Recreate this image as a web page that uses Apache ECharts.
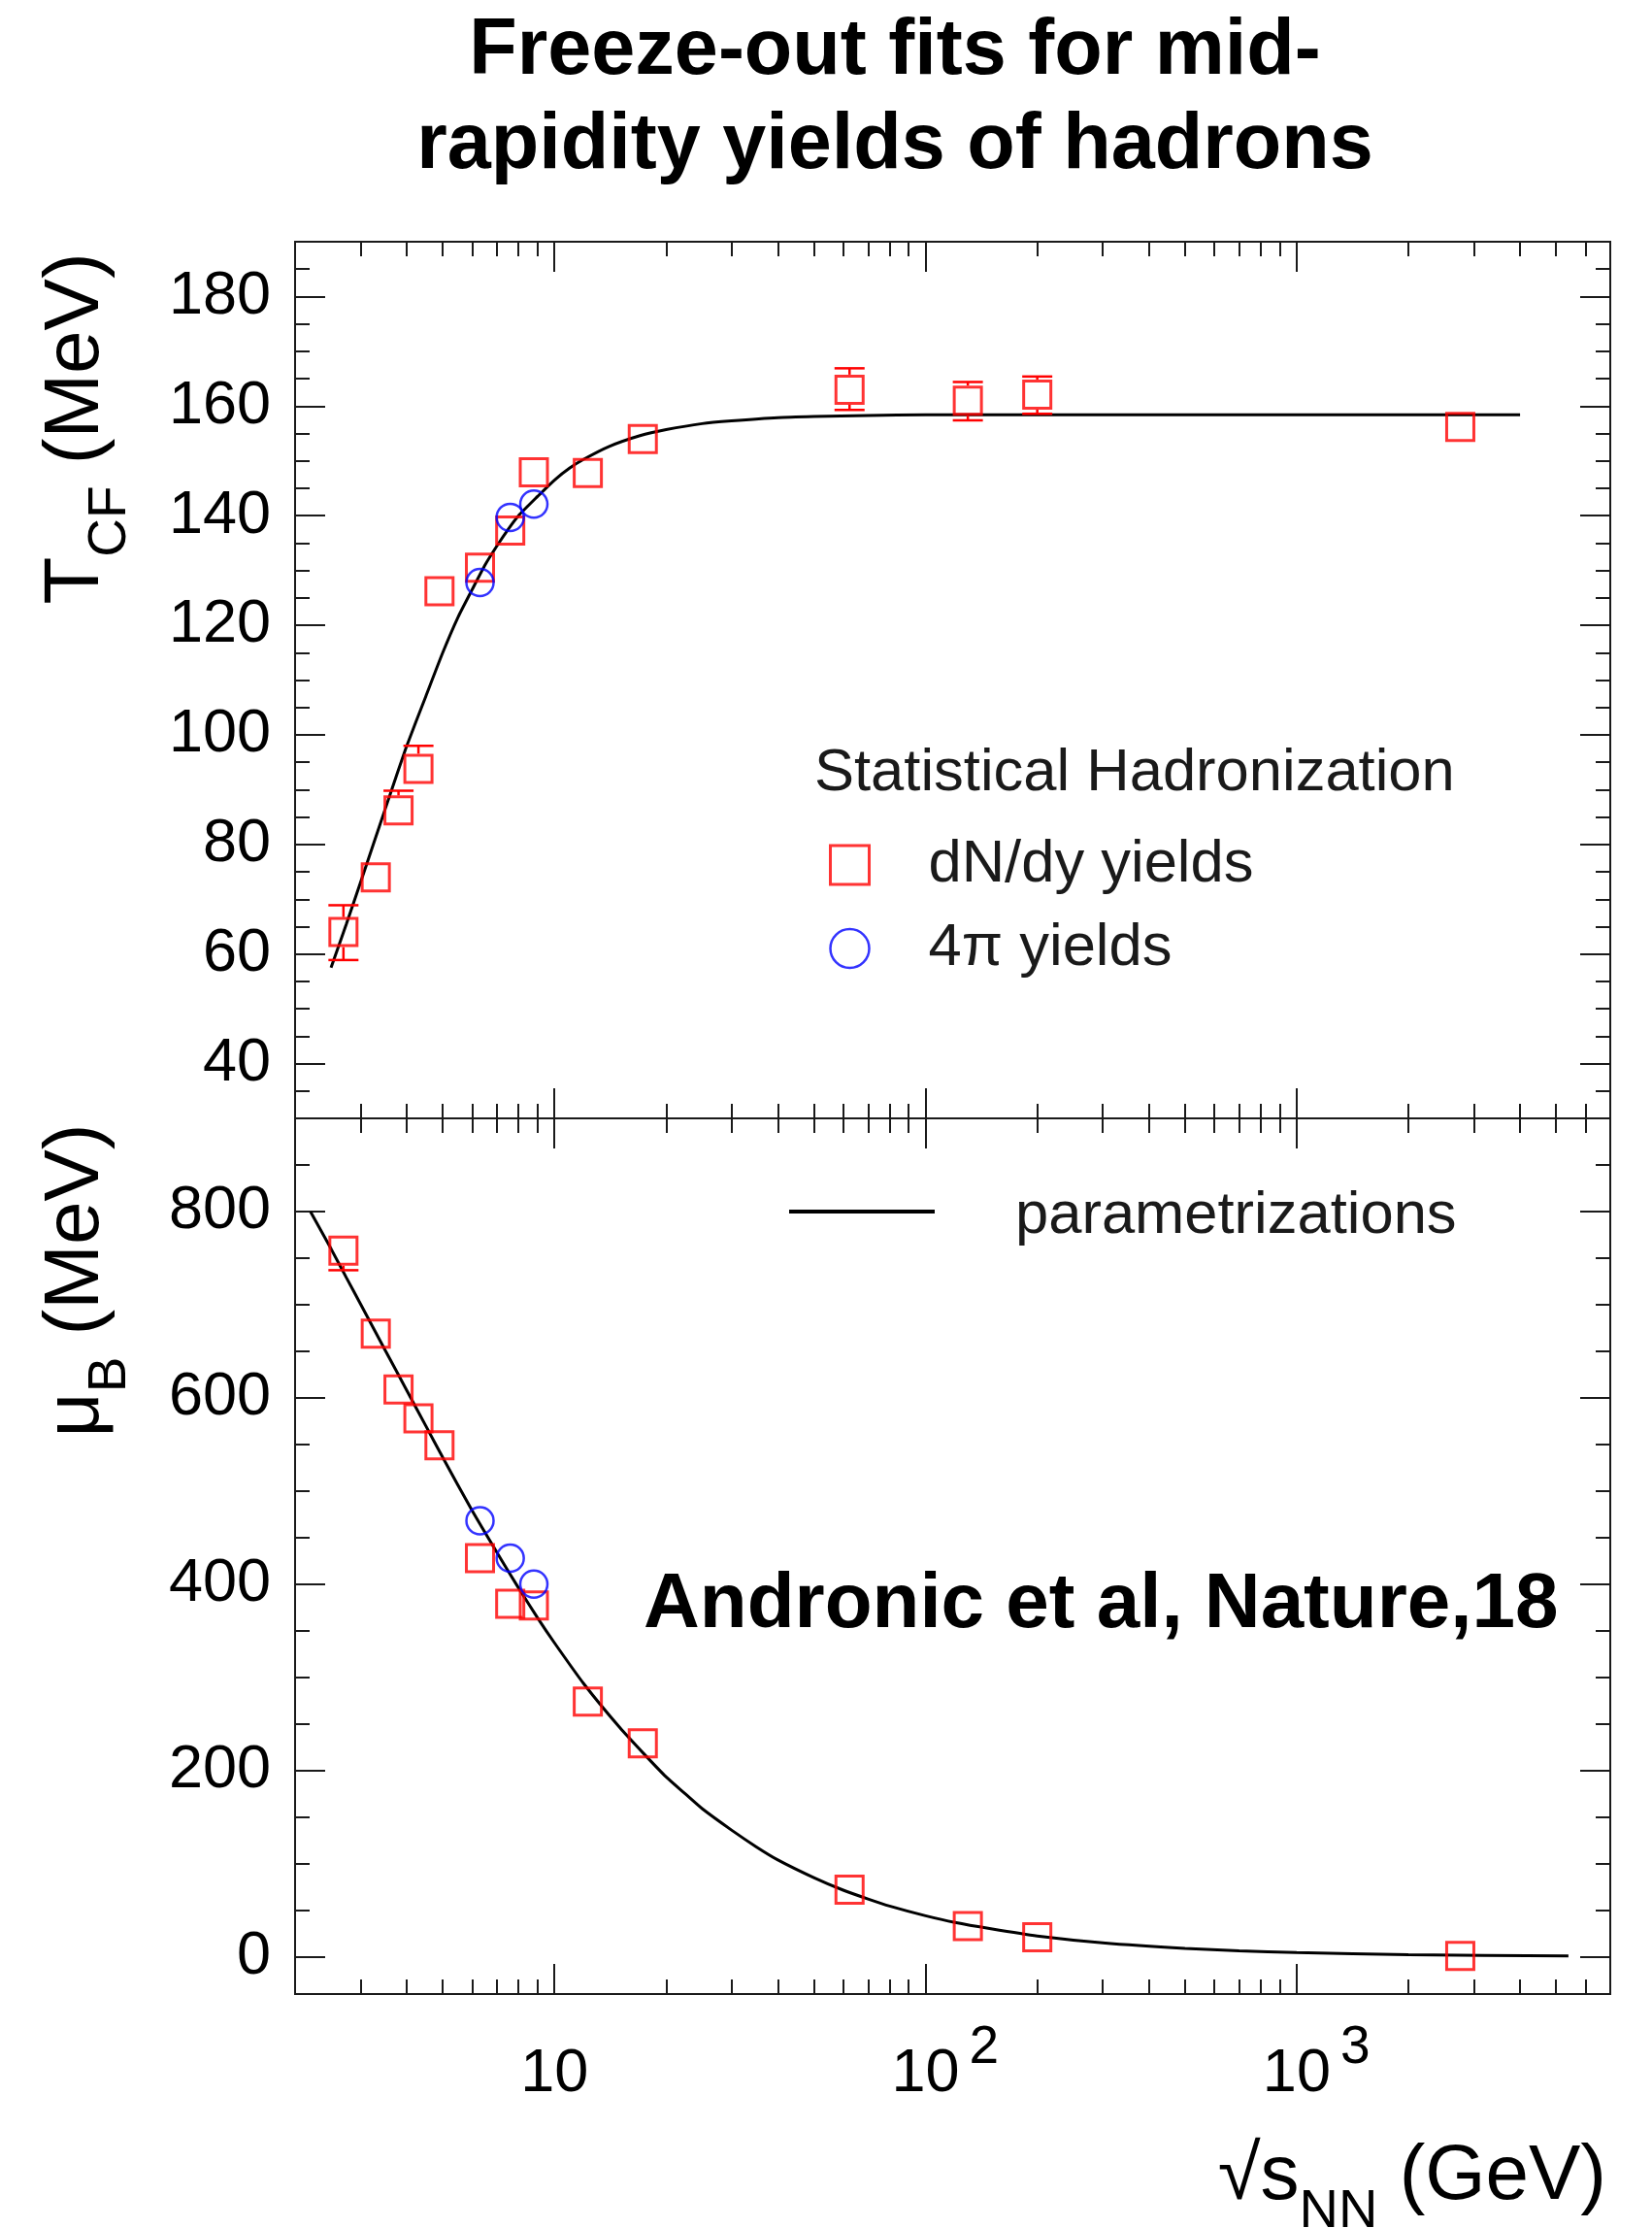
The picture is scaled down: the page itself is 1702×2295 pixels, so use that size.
<!DOCTYPE html>
<html>
<head>
<meta charset="utf-8">
<script src="https://cdn.jsdelivr.net/npm/echarts@6/dist/echarts.min.js"></script>
<style>
  html, body { margin: 0; padding: 0; background: #ffffff; }
  #chart { width: 1702px; height: 2295px; }
</style>
</head>
<body>
<div id="chart"></div>
<script>
// ---- Freeze-out parameters from statistical hadronization fits ----
// Collision energies sqrt(s_NN) in GeV (mid-rapidity dN/dy fits)
const energies = [2.7, 3.3, 3.8, 4.3, 4.9, 6.3, 7.6, 8.8, 12.3, 17.3, 62.4, 130, 200, 2760];
// Chemical freeze-out temperature T_CF (MeV)
const tempDnDy = [64, 74, 86.2, 93.8, 126.2, 130.5, 137.3, 147.9, 147.8, 154, 163, 161, 162.1, 156.2];
const tempErrHigh = [68.9, null, 89.8, 98, null, null, null, null, null, null, 166.9, 164.4, 165.4, null];
const tempErrLow = [58.9, null, null, null, null, null, null, null, null, null, 159.3, 157.4, 158.6, null];
// Baryon chemical potential mu_B (MeV)
const muDnDy = [758, 669, 609, 578, 549, 428, 379, 377, 274, 229, 72, 33, 21, 1];
const muErrHigh = [null, null, null, null, null, null, null, null, null, null, null, null, null, null];
const muErrLow = [737, null, null, null, null, null, null, null, null, null, null, null, null, null];

// Fits to full-phase-space (4pi) yields
const energies4pi = [6.3, 7.6, 8.8];
const temp4pi = [127.8, 139.7, 142.1];
const mu4pi = [468, 428, 400];

// Parametrization curves
const tempCurveX = [2.5, 2.75, 3, 3.25, 3.5, 3.75, 4, 4.5, 5, 5.5, 6, 6.5, 7, 7.5, 8, 9, 10, 11, 12, 14, 17, 20, 25, 30, 40, 50, 70, 100, 200, 500, 1000, 2000, 4000];
const tempCurveY = [57.5, 65.5, 73, 80, 86.5, 92.5, 98, 107, 115, 121.5, 126.5, 131, 134.5, 137.5, 140, 143.5, 146.5, 148.7, 150.3, 152.6, 154.6, 155.7, 156.8, 157.3, 157.9, 158.1, 158.3, 158.4, 158.4, 158.4, 158.4, 158.4, 158.4];
const muCurveX = [2.2, 2.5, 2.75, 3, 3.5, 4, 4.5, 5, 6, 7, 8, 9, 10, 12, 15, 17.5, 20, 22.5, 25, 30, 35, 40, 50, 60, 70, 80, 100, 120, 150, 200, 300, 500, 700, 1000, 2000, 5400];
const muCurveY = [800, 760, 729, 701, 651, 608, 570, 536, 479, 434, 396, 364, 337, 293, 246, 217, 193, 175, 159, 136, 118, 104, 85, 71.5, 62, 54.4, 44, 36.8, 30, 22.3, 15, 9, 6.5, 4.5, 2.3, 0.84];

// Axis ticks and labels
const xMajorTicks = [10, 100, 1000];
const xMinorTicks = [3, 4, 5, 6, 7, 8, 9, 20, 30, 40, 50, 60, 70, 80, 90,
  200, 300, 400, 500, 600, 700, 800, 900, 2000, 3000, 4000, 5000, 6000];
const xLabelValues = [10, 100, 1000];
const xLabelBases = ['10', '10', '10'];
const xLabelExps = ['', '2', '3'];
const tempTickLabels = [40, 60, 80, 100, 120, 140, 160, 180];
const muTickLabels = [0, 200, 400, 600, 800];

const FONT = '"Liberation Sans", Arial, Helvetica, sans-serif';
const INK = '#1a1a1a';
const RED = '#ff0000';
const BLUE = '#0000ff';

function pairs(xs, ys) { return xs.map((x, i) => [x, ys[i]]); }
function errRows(xs, ys, hi, lo) {
  return xs.map((x, i) => [x, ys[i], hi[i] == null ? '-' : hi[i], lo[i] == null ? '-' : lo[i]]);
}

function xAxisDef(gridIndex, position, values, len, label) {
  return {
    type: 'log', logBase: 10, gridIndex: gridIndex, position: position,
    min: 2, max: 7000,
    axisLine: { show: false, onZero: false },
    splitLine: { show: false },
    minorTick: { show: false },
    axisTick: { show: true, inside: true, length: len, customValues: values,
      lineStyle: { color: INK, width: 2 } },
    axisLabel: label || { show: false }
  };
}

function yAxisDef(gridIndex, position, min, max, split, labels) {
  return {
    type: 'value', gridIndex: gridIndex, position: position,
    min: min, max: max, splitNumber: split,
    axisLine: { show: false, onZero: false },
    splitLine: { show: false },
    axisTick: { show: true, inside: true, length: 31, lineStyle: { color: INK, width: 2 } },
    minorTick: { show: true, splitNumber: 4, length: 15, lineStyle: { color: INK, width: 2 } },
    axisLabel: labels ? {
      show: true, customValues: labels, margin: 25,
      fontSize: 63, fontFamily: FONT, color: '#000'
    } : { show: false }
  };
}

const xLabelStyle = {
  show: true,
  customValues: xLabelValues,
  margin: 28,
  fontSize: 63, fontFamily: FONT, color: '#000',
  formatter: function (v) {
    const i = xLabelValues.findIndex(t => Math.abs(t - v) / t < 1e-6);
    if (i < 0) return '';
    const e = xLabelExps[i];
    return e
      ? '{pad|' + e + '}' + xLabelBases[i] + '{sup|' + e + '}'
      : '{pad|0}' + xLabelBases[i] + '{padr|0}';
  },
  rich: {
    pad: { fontSize: 55, fontFamily: FONT, color: 'rgba(0,0,0,0)', padding: [0, 10, 55, 0] },
    padr: { fontSize: 55, fontFamily: FONT, color: 'rgba(0,0,0,0)', padding: [0, 0, 55, 10] },
    sup: { fontSize: 55, fontFamily: FONT, color: '#000', padding: [0, 0, 55, 10] }
  }
};

// Error bars drawn outside the open square markers
function errorBarRenderer(color) {
  const half = 15.5, cap = 15.5;
  return function (params, api) {
    const x = api.value(0), y = api.value(1), hi = api.value(2), lo = api.value(3);
    const c = api.coord([x, y]);
    const style = { stroke: color, lineWidth: 2.5, fill: null };
    const kids = [];
    if (!isNaN(hi)) {
      const p = api.coord([x, hi]);
      if (p[1] < c[1] - half) {
        kids.push({ type: 'line', shape: { x1: c[0], y1: c[1] - half, x2: c[0], y2: p[1] }, style: style });
        kids.push({ type: 'line', shape: { x1: c[0] - cap, y1: p[1], x2: c[0] + cap, y2: p[1] }, style: style });
      }
    }
    if (!isNaN(lo)) {
      const p = api.coord([x, lo]);
      if (p[1] > c[1] + half) {
        kids.push({ type: 'line', shape: { x1: c[0], y1: c[1] + half, x2: c[0], y2: p[1] }, style: style });
        kids.push({ type: 'line', shape: { x1: c[0] - cap, y1: p[1], x2: c[0] + cap, y2: p[1] }, style: style });
      }
    }
    return { type: 'group', children: kids };
  };
}

const squareStyle = { color: 'rgba(0,0,0,0)', borderColor: RED, borderWidth: 3 };
const circleStyle = { color: 'rgba(0,0,0,0)', borderColor: BLUE, borderWidth: 2.5 };

const chart = echarts.init(document.getElementById('chart'), null, { renderer: 'canvas', width: 1702, height: 2295 });

chart.setOption({
  backgroundColor: '#ffffff',
  animation: false,
  title: {
    text: 'Freeze-out fits for mid-\nrapidity yields of hadrons',
    left: 922, top: 5, padding: 0, textAlign: 'center',
    textStyle: { fontSize: 81, fontWeight: 'bold', lineHeight: 97, color: '#000', fontFamily: FONT }
  },
  grid: [
    { left: 304, top: 249, width: 1355, height: 903, show: true, borderColor: INK, borderWidth: 2, backgroundColor: 'rgba(0,0,0,0)' },
    { left: 304, top: 1152, width: 1355, height: 902, show: true, borderColor: INK, borderWidth: 2, backgroundColor: 'rgba(0,0,0,0)' }
  ],
  xAxis: [
    xAxisDef(0, 'bottom', xMajorTicks, 31),
    xAxisDef(0, 'bottom', xMinorTicks, 15),
    xAxisDef(0, 'top', xMajorTicks, 31),
    xAxisDef(0, 'top', xMinorTicks, 15),
    xAxisDef(1, 'top', xMajorTicks, 31),
    xAxisDef(1, 'top', xMinorTicks, 15),
    xAxisDef(1, 'bottom', xMajorTicks, 31, xLabelStyle),
    xAxisDef(1, 'bottom', xMinorTicks, 15)
  ],
  yAxis: [
    yAxisDef(0, 'left', 30, 190, 8, tempTickLabels),
    yAxisDef(0, 'right', 30, 190, 8, null),
    yAxisDef(1, 'left', -40, 900, 5, muTickLabels),
    yAxisDef(1, 'right', -40, 900, 5, null)
  ],
  legend: [
    {
      orient: 'vertical', left: 854, top: 860, padding: 0,
      itemWidth: 40, itemHeight: 40, itemGap: 24, selectedMode: false,
      textStyle: { fontSize: 61.5, fontFamily: FONT, color: INK, padding: [0, 0, 0, 56] },
      data: [
        { name: 'dN/dy yields', icon: 'rect', itemStyle: squareStyle },
        { name: '4π yields', icon: 'circle', itemStyle: circleStyle }
      ]
    },
    {
      orient: 'horizontal', left: 813, top: 1222, padding: 0,
      itemWidth: 150, itemHeight: 4, selectedMode: false,
      formatter: '{t|{name}}',
      textStyle: {
        fontSize: 61.5, fontFamily: FONT, color: INK,
        rich: { t: { fontSize: 61.5, fontFamily: FONT, color: INK, padding: [10, 0, 0, 78] } }
      },
      data: [
        { name: 'parametrizations', icon: 'rect', itemStyle: { color: '#000', borderWidth: 0 } }
      ]
    }
  ],
  graphic: [
    {
      type: 'text', x: 839, y: 797, silent: true,
      style: { text: 'Statistical Hadronization', font: '61.5px ' + FONT, fill: INK, align: 'left', verticalAlign: 'middle' }
    },
    {
      type: 'text', x: 663, y: 1654, silent: true,
      style: { text: 'Andronic et al, Nature,18', font: 'bold 80px ' + FONT, fill: '#000', align: 'left', verticalAlign: 'middle' }
    },
    {
      type: 'text', x: 79, y: 441.5, rotation: Math.PI / 2, silent: true,
      style: {
        text: '{m|T}{s|CF}{m| (MeV)}', align: 'center', verticalAlign: 'middle',
        rich: {
          m: { font: '80px ' + FONT, fill: '#000' },
          s: { font: '55px ' + FONT, fill: '#000', padding: [70, 0, 0, 0] }
        }
      }
    },
    {
      type: 'text', x: 79, y: 1319, rotation: Math.PI / 2, silent: true,
      style: {
        text: '{m|μ}{s|B}{m| (MeV)}', align: 'center', verticalAlign: 'middle',
        rich: {
          m: { font: '80px ' + FONT, fill: '#000' },
          s: { font: '55px ' + FONT, fill: '#000', padding: [70, 0, 0, 0] }
        }
      }
    },
    {
      type: 'text', x: 1655, y: 2243, silent: true,
      style: {
        text: '{m|√s}{s|NN}{m| (GeV)}', align: 'right', verticalAlign: 'middle',
        rich: {
          m: { font: '80px ' + FONT, fill: '#000' },
          s: { font: '56px ' + FONT, fill: '#000', padding: [72, 0, 0, 0] }
        }
      }
    }
  ],
  series: [
    {
      type: 'line', name: 'parametrizations', xAxisIndex: 0, yAxisIndex: 0,
      data: pairs(tempCurveX, tempCurveY), showSymbol: false, symbol: 'none',
      smooth: 0.2, lineStyle: { color: '#000', width: 3 }, z: 2, silent: true
    },
    {
      type: 'line', name: 'parametrizations', xAxisIndex: 6, yAxisIndex: 2,
      data: pairs(muCurveX, muCurveY), showSymbol: false, symbol: 'none',
      smooth: 0.2, lineStyle: { color: '#000', width: 3 }, z: 2, silent: true
    },
    {
      type: 'custom', name: 'T errors', xAxisIndex: 0, yAxisIndex: 0,
      renderItem: errorBarRenderer(RED),
      data: errRows(energies, tempDnDy, tempErrHigh, tempErrLow), z: 3, silent: true
    },
    {
      type: 'custom', name: 'muB errors', xAxisIndex: 6, yAxisIndex: 2,
      renderItem: errorBarRenderer(RED),
      data: errRows(energies, muDnDy, muErrHigh, muErrLow), z: 3, silent: true
    },
    {
      type: 'scatter', name: 'dN/dy yields', xAxisIndex: 0, yAxisIndex: 0,
      symbol: 'rect', symbolSize: 28, itemStyle: squareStyle,
      data: pairs(energies, tempDnDy), z: 4, silent: true
    },
    {
      type: 'scatter', name: 'dN/dy yields', xAxisIndex: 6, yAxisIndex: 2,
      symbol: 'rect', symbolSize: 28, itemStyle: squareStyle,
      data: pairs(energies, muDnDy), z: 4, silent: true
    },
    {
      type: 'scatter', name: '4π yields', xAxisIndex: 0, yAxisIndex: 0,
      symbol: 'circle', symbolSize: 28, itemStyle: circleStyle,
      data: pairs(energies4pi, temp4pi), z: 5, silent: true
    },
    {
      type: 'scatter', name: '4π yields', xAxisIndex: 6, yAxisIndex: 2,
      symbol: 'circle', symbolSize: 28, itemStyle: circleStyle,
      data: pairs(energies4pi, mu4pi), z: 5, silent: true
    }
  ]
});
</script>
</body>
</html>
